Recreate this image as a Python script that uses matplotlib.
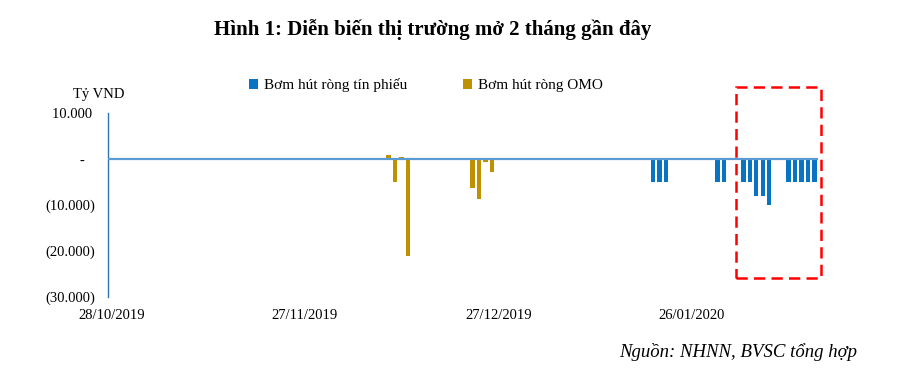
import matplotlib
matplotlib.use('Agg')
import matplotlib.pyplot as plt
from matplotlib.patches import Rectangle
import pandas as pd

plt.rcParams['font.family'] = ['Liberation Serif', 'DejaVu Serif']

# daily category axis
start_date = '2019-10-28'
end_date = '2020-02-14'
tick_dates = ['28/10/2019', '27/11/2019', '27/12/2019', '26/01/2020']

# Bơm hút ròng tín phiếu (tỷ VND)
tp_dates = ['20/01/2020', '21/01/2020', '22/01/2020', '30/01/2020', '31/01/2020',
            '03/02/2020', '04/02/2020', '05/02/2020', '06/02/2020', '07/02/2020',
            '10/02/2020', '11/02/2020', '12/02/2020', '13/02/2020', '14/02/2020']
tp_values = [-5000, -5000, -5000, -5000, -5000,
             -5000, -5000, -8000, -8000, -10000,
             -5000, -5000, -5000, -5000, -5000]

# Bơm hút ròng OMO (tỷ VND)
omo_dates = ['10/12/2019', '11/12/2019', '12/12/2019', '13/12/2019',
             '23/12/2019', '24/12/2019', '25/12/2019', '26/12/2019']
omo_values = [800, -5000, 500, -21200, -6400, -8800, -700, -2800]

yticks = [10000, 0, -10000, -20000, -30000]

days = pd.date_range(start_date, end_date, freq='D')
day_idx = {d.strftime('%d/%m/%Y'): i for i, d in enumerate(days)}

blue = '#0a74c4'
gold = '#bf9000'

fig = plt.figure(figsize=(9.14, 3.75), dpi=100)
ax = fig.add_axes([0.1182, 0.2088, 0.7763, 0.4891])

ax.bar([day_idx[d] for d in tp_dates], tp_values, width=0.68, color=blue,
       label='Bơm hút ròng tín phiếu', zorder=2)
ax.bar([day_idx[d] for d in omo_dates], omo_values, width=0.68, color=gold,
       label='Bơm hút ròng OMO', zorder=2)
ax.axhline(0, color='#5b9bd5', lw=1.6, zorder=3)

ax.set_xlim(-0.5, len(days) - 0.5)
ax.set_ylim(-30000, 10000)


def lab(v):
    if v == 0:
        return '-   '
    s = f'{abs(v):,.0f}'.replace(',', '.')
    return f'({s})' if v < 0 else s + ' '


ax.set_yticks(yticks)
ax.set_yticklabels([lab(v) for v in yticks])
ax.set_xticks([day_idx[d] for d in tick_dates])
ax.set_xticklabels(tick_dates)
ax.tick_params(axis='y', length=0, pad=9, labelsize=10.5)
ax.tick_params(axis='x', length=0, pad=9, labelsize=10.5)

for s in ['top', 'right', 'bottom']:
    ax.spines[s].set_visible(False)
ax.spines['left'].set_color('#2e75b6')
ax.spines['left'].set_linewidth(1.0)

# red dashed highlight box
ax.add_patch(Rectangle((day_idx['30/01/2020'] + 2.8, -26000), 13.3, 41800,
                       fill=False, ec='#ff0000', lw=1.8, ls=(0, (4.5, 2.5)),
                       clip_on=False, zorder=4))

fig.text(0.473, 0.92, 'Hình 1: Diễn biến thị trường mở 2 tháng gần đây',
         ha='center', va='center', fontsize=15, fontweight='bold')
fig.text(0.1075, 0.747, 'Tỷ VND', ha='center', va='center', fontsize=10.5)
fig.legend(loc='center', bbox_to_anchor=(0.466, 0.773), ncol=2, frameon=False,
           fontsize=11, handlelength=0.6, handleheight=0.6, handletextpad=0.4,
           columnspacing=3.6)
fig.text(0.9376, 0.061, 'Nguồn: NHNN, BVSC tổng hợp', ha='right', va='center',
         fontsize=13.5, style='italic')

fig.savefig('out.png', dpi=100)
